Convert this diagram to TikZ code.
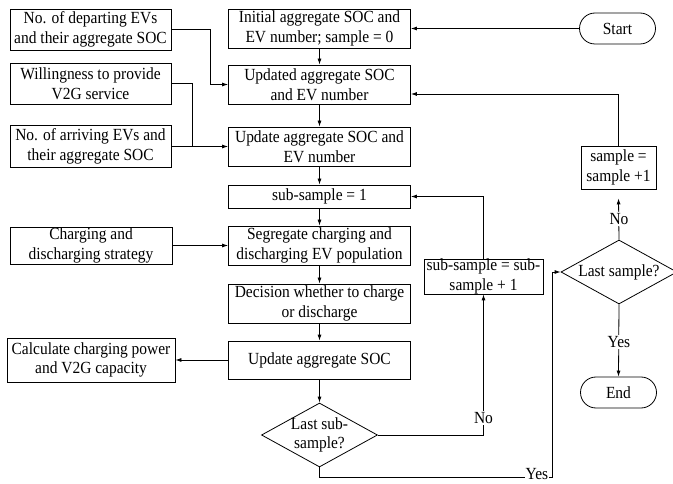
\documentclass[tikz,border=0pt]{standalone}
\usepackage{fontspec}
\setmainfont[FakeStretch=0.91]{Liberation Serif}
\usetikzlibrary{arrows.meta,shapes.geometric}
\tikzset{
  every node/.style={font=\fontsize{17}{19.5}\selectfont, text=black},
  box/.style={draw, line width=0.8pt, align=center, inner sep=0pt, minimum height=39pt},
  term/.style={draw, line width=0.8pt, align=center, inner sep=0pt, rounded corners=15.5pt, minimum width=76pt, minimum height=31pt},
  dia/.style={draw, line width=0.8pt, shape=diamond, inner sep=0pt, minimum width=116pt, minimum height=64pt},
  txt/.style={align=center, inner sep=0pt},
  lbl/.style={fill=white, inner sep=1pt},
  arr/.style={line width=0.8pt, -{Latex[length=6pt,width=4pt]}},
  ln/.style={line width=0.8pt}
}
\begin{document}
\begin{tikzpicture}[x=1pt,y=-1pt]
\useasboundingbox (0,0) rectangle (673,484);
% left column
\node[box, minimum width=161pt, minimum height=41pt] (dep) at (90.5,29.5) {No. of departing EVs\\and their aggregate SOC};
\node[box, minimum width=161pt, minimum height=41pt] (will) at (90.5,83.5) {Willingness to provide\\V2G service};
\node[box, minimum width=161pt, minimum height=42pt] (arr) at (90.5,146.5) {No. of arriving EVs and\\their aggregate SOC};
\node[box, minimum width=162pt, minimum height=37pt] (strat) at (91,245.5) {Charging and\\discharging strategy};
\node[box, minimum width=168pt, minimum height=44pt] (calc) at (91,360) {Calculate charging power\\and V2G capacity};
% centre column
\node[box, minimum width=182pt] (init) at (319.5,28.5) {Initial aggregate SOC and\\EV number; sample = 0};
\node[box, minimum width=182pt] (updated) at (319.5,84.5) {Updated aggregate SOC\\and EV number};
\node[box, minimum width=182pt] (update) at (319.5,146.5) {Update aggregate SOC and\\EV number};
\node[box, minimum width=182pt, minimum height=23pt] (sub1) at (319.5,196.5) {sub-sample = 1};
\node[box, minimum width=182pt] (seg) at (319.5,245.5) {Segregate charging and\\discharging EV population};
\node[box, minimum width=182pt] (dec) at (319.5,303.5) {Decision whether to charge\\or discharge};
\node[box, minimum width=182pt, minimum height=38pt] (upd2) at (319.5,360) {Update aggregate SOC};
\node[dia] (lastsub) at (319.5,435) {};
\node[txt] (lastsubtxt) at (319.5,435) {Last sub-\\sample?};
% middle-right
\node[box, minimum width=119pt, minimum height=35pt] (subsub) at (483.5,276.5) {sub-sample = sub-\\sample + 1};
% right column
\node[term] (start) at (617.5,28.5) {Start};
\node[box, minimum width=75pt, minimum height=43pt] (sample) at (618.5,167.5) {sample =\\sample +1};
\node[dia] (lastsample) at (619,272) {};
\node[txt] (lastsampletxt) at (619,272) {Last sample?};
\node[term] (endn) at (618.5,392.5) {End};
% helper coordinates
\coordinate (d1) at (210,0);
\coordinate (w1) at (192,0);
\coordinate (r1) at (0,94);
\coordinate (yb) at (552,477);
% connectors
\draw[arr] (start.west) -- (init.east);
\draw[arr] (init.south) -- (updated.north);
\draw[arr] (updated.south) -- (update.north);
\draw[arr] (update.south) -- (sub1.north);
\draw[arr] (sub1.south) -- (seg.north);
\draw[arr] (seg.south) -- (dec.north);
\draw[arr] (dec.south) -- (upd2.north);
\draw[arr] (upd2.south) -- (lastsub.north);
\draw[arr] (dep.east) -| (d1 |- updated.west) -- (updated.west);
\draw[ln] (will.east) -| (w1 |- arr.east);
\draw[arr] (arr.east) -- (update.west);
\draw[arr] (strat.east) -- (seg.west);
\draw[arr] (upd2.west) -- (calc.east);
\draw[arr] (lastsub.east) -| (subsub.south);
\draw[arr] (subsub.north) |- (sub1.east);
\draw[arr] (lastsub.south) |- (yb) -- (yb |- lastsample.west) -- (lastsample.west);
\draw[arr] (lastsample.north) -- ([yshift=-9pt]sample.south);
\draw[arr] (sample.north) |- (updated.east |- r1);
\draw[arr] (lastsample.south) -- (endn.north);
% labels
\node[lbl] (no1) at (483.5,418) {No};
\node[lbl] (yes1) at (537,474) {Yes};
\node[lbl] (no2) at (619,219) {No};
\node[lbl] (yes2) at (619,342) {Yes};
\end{tikzpicture}
\end{document}
